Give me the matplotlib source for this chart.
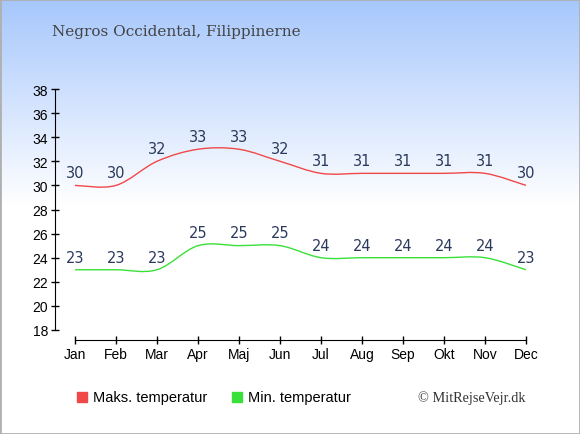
import matplotlib
matplotlib.use("Agg")
import matplotlib.pyplot as plt
import numpy as np
from matplotlib.path import Path
from matplotlib.patches import PathPatch, Rectangle

# ─── Data ─────────────────────────────────────────────────────────────────────
MONTHS   = ["Jan", "Feb", "Mar", "Apr", "Maj", "Jun",
            "Jul", "Aug", "Sep", "Okt", "Nov", "Dec"]
MAX_TEMP = [30, 30, 32, 33, 33, 32, 31, 31, 31, 31, 31, 30]
MIN_TEMP = [23, 23, 23, 25, 25, 25, 24, 24, 24, 24, 24, 23]
Y_TICKS  = list(range(18, 39, 2))

TITLE    = "Negros Occidental, Filippinerne"
RED      = "#f04848"
GREEN    = "#3ae03a"
LABEL_C  = "#2b3a5c"
PX       = 72 / 100   # points per pixel at dpi 100


def smooth_path(xs, ys, tension=1 / 6):
    """Catmull-Rom curve through the points, as cubic Bezier segments."""
    pts = np.column_stack([xs, ys]).astype(float)
    verts = [pts[0]]
    codes = [Path.MOVETO]
    n = len(pts)
    for i in range(n - 1):
        p0 = pts[i - 1] if i > 0 else pts[i]
        p1, p2 = pts[i], pts[i + 1]
        p3 = pts[i + 2] if i + 2 < n else pts[i + 1]
        c1 = p1 + (p2 - p0) * tension
        c2 = p2 - (p3 - p1) * tension
        verts += [c1, c2, p2]
        codes += [Path.CURVE4] * 3
    return Path(verts, codes)


fig = plt.figure(figsize=(5.8, 4.35), dpi=100)

# gradient background
bg = fig.add_axes([0, 0, 1, 1], zorder=-10)
grad = np.ones((435, 1, 3))
top = np.array([0.65, 0.78, 0.99])
for r in range(435):
    t = min(r / 205.0, 1.0)
    grad[r, 0] = top * (1 - t) + np.array([1.0, 1.0, 1.0]) * t
bg.imshow(grad, aspect="auto", extent=[0, 1, 0, 1], origin="upper")
bg.add_patch(Rectangle((0, 0), 1, 1, transform=bg.transAxes, fill=False,
                       edgecolor="#b0b0b0", linewidth=2))
bg.set_axis_off()

ax = fig.add_axes([75 / 580, 104 / 435, 451 / 580, 241 / 435])
ax.patch.set_alpha(0)
ax.set_xlim(0, 11)
ax.set_ylim(18, 38)

x = np.arange(len(MONTHS))
for vals, col in [(MAX_TEMP, RED), (MIN_TEMP, GREEN)]:
    ax.add_patch(PathPatch(smooth_path(x, vals), facecolor="none",
                           edgecolor=col, linewidth=1.0, clip_on=False))
    for xi, v in zip(x, vals):
        ax.text(xi, v + 1.05, str(v), ha="center", va="center",
                fontsize=10.5, color=LABEL_C, family="DejaVu Sans")

for side in ("top", "right"):
    ax.spines[side].set_visible(False)
ax.spines["left"].set_position(("outward", 20 * PX))
ax.spines["bottom"].set_position(("outward", 10 * PX))
ax.set_yticks(Y_TICKS)
ax.set_xticks(x)
ax.set_xticklabels(MONTHS)
ax.tick_params(axis="both", direction="inout", length=6, width=1,
               labelsize=10, colors="black", pad=2)
for lab in ax.get_xticklabels() + ax.get_yticklabels():
    lab.set_family("Liberation Sans")

fig.text(52 / 580, 1 - 32 / 435, TITLE, family="DejaVu Serif", fontsize=11,
         color="#444444", va="center")

# legend
ly = 1 - 398 / 435
fig.patches.append(Rectangle((77 / 580, ly - 5 / 435), 10 / 580, 10 / 435,
                             transform=fig.transFigure, color=RED))
fig.text(93 / 580, ly, "Maks. temperatur", fontsize=10.5, va="center",
         family="Liberation Sans")
fig.patches.append(Rectangle((232 / 580, ly - 5 / 435), 10 / 580, 10 / 435,
                             transform=fig.transFigure, color=GREEN))
fig.text(248 / 580, ly, "Min. temperatur", fontsize=10.5, va="center",
         family="Liberation Sans")
fig.text(526 / 580, ly, "© MitRejseVejr.dk", family="Liberation Serif",
         fontsize=10.3, color="#333333", va="center", ha="right")

fig.savefig("out.png", dpi=100)
